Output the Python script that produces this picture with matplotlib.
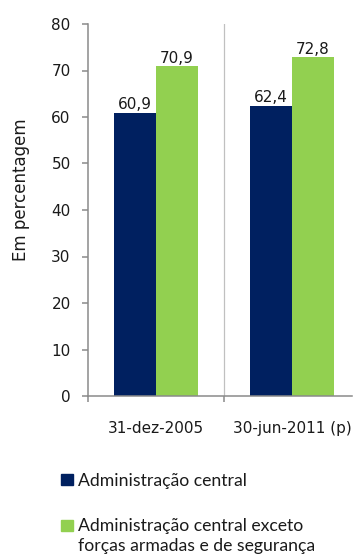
import matplotlib
matplotlib.use("Agg")
import matplotlib.pyplot as plt
from matplotlib.patches import Rectangle
import numpy as np

categories = ["31-dez-2005", "30-jun-2011 (p)"]
series_names = ["Administração central",
                "Administração central exceto\nforças armadas e de segurança"]
admin_central = [60.9, 62.4]
admin_sem_forcas = [70.9, 72.8]
colors = ["#002060", "#92D050"]
yticks = [0, 10, 20, 30, 40, 50, 60, 70, 80]

plt.rcParams["font.family"] = ["DejaVu Sans"]
TXT = "#1a1a1a"
AXC = "#8a8a8a"

W, H = 357, 557
fig = plt.figure(figsize=(W / 100, H / 100), dpi=100)
ax_left, ax_right, ax_top, ax_bot = 88, 352, 24, 396
ax = fig.add_axes([ax_left / W, 1 - ax_bot / H,
                   (ax_right - ax_left) / W, (ax_bot - ax_top) / H])

unit = 136  # pixels per category
x = np.arange(len(categories))
bw = 0.31
for vals, off, col in [(admin_central, -bw / 2, colors[0]),
                       (admin_sem_forcas, bw / 2, colors[1])]:
    bars = ax.bar(x + off, vals, width=bw, color=col, zorder=2)
    for b, v in zip(bars, vals):
        ax.text(b.get_x() + b.get_width() / 2, v + 0.8,
                f"{v:.1f}".replace(".", ","), ha="center", va="baseline",
                fontsize=11, color=TXT)

ax.set_xlim(-0.5, -0.5 + (ax_right - ax_left) / unit)
ax.set_ylim(0, 80)
ax.set_yticks(yticks)
ax.tick_params(axis="y", labelsize=11, length=4.5, width=1.1, color=AXC,
               pad=8, labelcolor=TXT)
ax.set_xticks([-0.5, 0.5])
ax.set_xticklabels([])
ax.tick_params(axis="x", length=4.5, width=1.1, color=AXC)
ax.axvline(0.5, color="#c0c0c0", lw=0.9, zorder=1)

for s in ["top", "right"]:
    ax.spines[s].set_visible(False)
for s in ["left", "bottom"]:
    ax.spines[s].set_color(AXC)
    ax.spines[s].set_linewidth(1.1)

for xi, lab in zip(x, categories):
    fig.text((ax_left + unit * (xi + 0.5)) / W, 1 - 433 / H, lab,
             ha="center", va="baseline", fontsize=11, color=TXT)

fig.text(21 / W, 1 - 190 / H, "Em percentagem", rotation=90,
         ha="center", va="center", fontsize=12, color=TXT)

# legend
leg_sq = [474, 520]
leg_base = [[486], [531, 551]]
for ys, bases, name, col in zip(leg_sq, leg_base, series_names, colors):
    fig.patches.append(Rectangle((61 / W, 1 - (ys + 11) / H), 12 / W, 11 / H,
                                 transform=fig.transFigure, color=col))
    for yb, line in zip(bases, name.split("\n")):
        fig.text(78 / W, 1 - yb / H, line, ha="left", va="baseline",
                 fontsize=12.7, family=["Lato", "DejaVu Sans"], color=TXT)

fig.savefig("out.png", dpi=100)
